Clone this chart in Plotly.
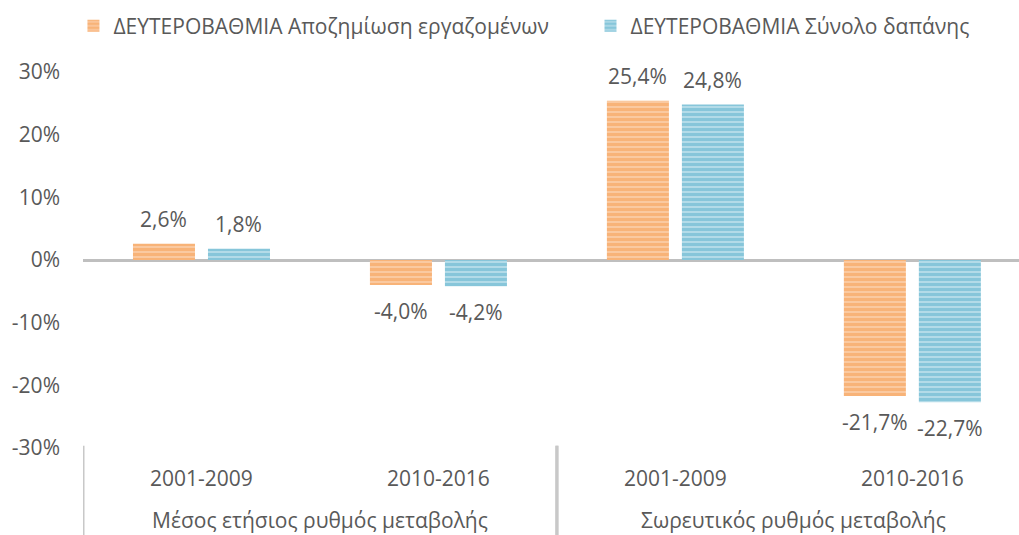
import plotly.graph_objects as go

groups = ["Μέσος ετήσιος ρυθμός μεταβολής", "Μέσος ετήσιος ρυθμός μεταβολής",
          "Σωρευτικός ρυθμός μεταβολής", "Σωρευτικός ρυθμός μεταβολής"]
periods = ["2001-2009", "2010-2016", "2001-2009", "2010-2016"]
series_names = ["ΔΕΥΤΕΡΟΒΑΘΜΙΑ Αποζημίωση εργαζομένων", "ΔΕΥΤΕΡΟΒΑΘΜΙΑ Σύνολο δαπάνης"]
comp_vals = [2.6, -4.0, 25.4, -21.7]
total_vals = [1.8, -4.2, 24.8, -22.7]
y_ticks = [-30, -20, -10, 0, 10, 20, 30]
y_labels = ["-30%", "-20%", "-10%", "0%", "10%", "20%", "30%"]

FONT = "Open Sans"
FS = 21
TXT = "#595959"
colors = [("#F6903A", "#FBD6B7"), ("#41A6C3", "#CCE7F0")]
legend_ids = ["legend", "legend2"]

fig = go.Figure()
for name, vals, (fg, bg), lg in zip(series_names, [comp_vals, total_vals], colors, legend_ids):
    fig.add_trace(go.Bar(
        x=[groups, periods], y=vals, name=name, legend=lg,
        marker=dict(color=bg, line=dict(width=0),
                    pattern=dict(shape="-", fgcolor=fg, bgcolor=bg, size=5, solidity=0.75, fillmode="overlay")),
    ))

def fmt(v):
    return f"{v:.1f}".replace(".", ",") + "%"

# data labels
for j, vals in enumerate([comp_vals, total_vals]):
    sh = -37.5 if j == 0 else 37.5
    for i, v in enumerate(vals):
        fig.add_annotation(x=i, y=v, xref="x", yref="y", text=fmt(v), showarrow=False,
                           xshift=sh, yshift=25 if v > 0 else -26,
                           font=dict(family=FONT, size=FS, color=TXT))

# category labels (inner level)
for i, p in enumerate(periods):
    fig.add_annotation(x=i, y=0, xref="x", yref="paper", text=p, showarrow=False,
                       yanchor="middle", yshift=-30, font=dict(family=FONT, size=FS, color=TXT))

# group labels (outer level) and dividers
uniq = []
for g in groups:
    if g not in uniq:
        uniq.append(g)
for g in uniq:
    idx = [i for i, gg in enumerate(groups) if gg == g]
    center = (idx[0] + idx[-1]) / 2
    fig.add_annotation(x=center, y=0, xref="x", yref="paper", text=g, showarrow=False,
                       yanchor="middle", yshift=-72, font=dict(family=FONT, size=FS, color=TXT))
    for b in (idx[0] - 0.5, idx[-1] + 0.5):
        fig.add_shape(type="line", xref="x", yref="paper", x0=b, x1=b, y0=0.006, y1=-0.3,
                      line=dict(color="#C8C8C8", width=3), layer="above")

legend_style = dict(orientation="h", yanchor="middle", y=1.122, xanchor="left",
                    font=dict(family=FONT, size=FS, color=TXT), bgcolor="rgba(0,0,0,0)")
fig.update_layout(
    width=1019, height=535,
    margin=dict(l=83, r=0, t=72, b=87, autoexpand=False),
    plot_bgcolor="white", paper_bgcolor="white",
    barmode="group", bargap=0.367, bargroupgap=0.173,
    font=dict(family=FONT, size=FS, color=TXT),
    showlegend=True,
    legend=dict(x=-0.0102, **legend_style),
    legend2=dict(x=0.5422, **legend_style),
)
fig.update_yaxes(range=[-30, 30], tickvals=y_ticks, ticktext=y_labels, showgrid=False,
                 zeroline=True, zerolinecolor="#BFBFBF", zerolinewidth=2.5,
                 ticklabelstandoff=22, showline=False,
                 tickfont=dict(family=FONT, size=FS, color=TXT))
fig.update_xaxes(range=[-0.5, 3.45], showgrid=False, showline=False,
                 showticklabels=False, showdividers=False, ticks="")
fig.write_html("out.html", config={"displayModeBar": False},
               post_script="document.body.style.margin='0';")
